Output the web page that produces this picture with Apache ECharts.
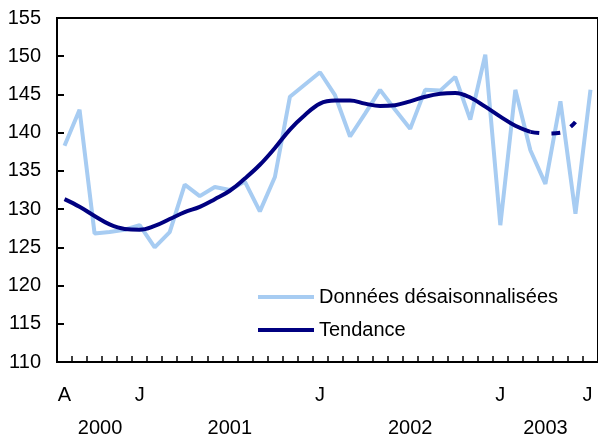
<!DOCTYPE html>
<html>
<head>
<meta charset="utf-8">
<script src="https://cdn.jsdelivr.net/npm/echarts@6/dist/echarts.min.js"></script>
<style>
html,body{margin:0;padding:0;background:#fff;}
#chart{width:598px;height:441px;}
</style>
</head>
<body>
<div id="chart"></div>
<script>
// Months: August 2000 to July 2003
var categories = [
  '2000-08','2000-09','2000-10','2000-11','2000-12',
  '2001-01','2001-02','2001-03','2001-04','2001-05','2001-06','2001-07','2001-08','2001-09','2001-10','2001-11','2001-12',
  '2002-01','2002-02','2002-03','2002-04','2002-05','2002-06','2002-07','2002-08','2002-09','2002-10','2002-11','2002-12',
  '2003-01','2003-02','2003-03','2003-04','2003-05','2003-06','2003-07'
];
var monthTickLabels = [
  'A','','','','',
  'J','','','','','','','','','','','',
  'J','','','','','','','','','','','',
  'J','','','','','','J'
];
var yearLabels = {2: '2000', 11: '2001', 23: '2002', 32: '2003'};

var seasonallyAdjusted = [
  138.3, 143.0, 126.8, 127.0, 127.3,
  127.9, 125.0, 127.0, 133.2, 131.7, 132.9, 132.5, 133.6, 129.7, 134.2, 144.7, 146.3,
  147.9, 144.9, 139.5, 142.5, 145.6, 143.0, 140.5, 145.6, 145.5, 147.3, 141.7, 150.2,
  127.9, 145.6, 137.7, 133.3, 144.1, 129.4, 145.6
];
var trendFinal = [
  131.3, 130.3, 129.1, 128.0, 127.4,
  127.3, 127.8, 128.7, 129.6, 130.3, 131.3, 132.4, 134.0, 135.8, 138.0, 140.4, 142.3,
  143.8, 144.2, 144.2, 143.8, 143.5, 143.6, 144.1, 144.7, 145.1, 145.2, 144.6, 143.4,
  142.1, 140.9, 140.1, null, null, null, null
];
var trendProvisional = [
  null, null, null, null, null,
  null, null, null, null, null, null, null, null, null, null, null, null,
  null, null, null, null, null, null, null, null, null, null, null, null,
  null, null, 140.1, 139.9, 140.0, 141.4, null
];

var FONT = "'Liberation Sans', Arial, sans-serif";
var chart = echarts.init(document.getElementById('chart'), null, {renderer: 'canvas'});
chart.setOption({
  animation: false,
  backgroundColor: '#fff',
  grid: {left: 57, right: -4, top: 18, bottom: 79, show: true, borderColor: '#000', borderWidth: 2, containLabel: false},
  legend: {
    data: ['Données désaisonnalisées', 'Tendance'],
    orient: 'vertical',
    left: 258, top: 287, padding: 0,
    icon: 'rect', itemWidth: 56, itemHeight: 4, itemGap: 13,
    textStyle: {fontFamily: FONT, fontSize: 20, color: '#000', lineHeight: 20, padding: [0, 0, 0, 0]}
  },
  xAxis: [{
    type: 'category', data: categories, boundaryGap: true, position: 'bottom',
    axisLine: {show: true, lineStyle: {color: '#000', width: 2}},
    axisTick: {show: true, inside: true, length: 6, interval: 0, lineStyle: {color: '#000', width: 1.5}},
    axisLabel: {
      interval: 0, margin: 23, fontFamily: FONT, fontSize: 20, color: '#000',
      formatter: function (v, i) { return monthTickLabels[i] ? (i === 35 ? '{r|' + monthTickLabels[i] + '}' : monthTickLabels[i]) : ''; },
      rich: {r: {fontFamily: FONT, fontSize: 20, color: '#000', padding: [0, 6, 0, 0]}}
    },
    splitLine: {show: false}
  }, {
    type: 'category', data: categories, boundaryGap: true, position: 'bottom',
    axisLine: {show: false}, axisTick: {show: false},
    axisLabel: {
      interval: 0, margin: 56, fontFamily: FONT, fontSize: 20, color: '#000',
      formatter: function (v, i) {
        var y = yearLabels[i];
        if (!y) return '';
        if (i === 2) return '{a|' + y + '}';
        return y;
      },
      rich: {a: {fontFamily: FONT, fontSize: 20, color: '#000', padding: [0, 0, 0, 11]}}
    },
    splitLine: {show: false}
  }],
  yAxis: {
    type: 'value', min: 110, max: 155, interval: 5,
    axisLine: {show: true, lineStyle: {color: '#000', width: 2}},
    axisTick: {show: true, inside: true, length: 7, lineStyle: {color: '#000', width: 2}},
    axisLabel: {margin: 16, fontFamily: FONT, fontSize: 20, color: '#000'},
    splitLine: {show: false}
  },
  series: [{
    name: 'Données désaisonnalisées', type: 'line', data: seasonallyAdjusted,
    color: '#a7ccf2', symbol: 'none', lineStyle: {width: 4, color: '#a7ccf2'}, z: 2
  }, {
    name: 'Tendance', type: 'line', data: trendFinal, smooth: 0.4,
    color: '#000080', symbol: 'none', lineStyle: {width: 4, color: '#000080'}, z: 3
  }, {
    name: 'Tendance provisoire', type: 'line', data: trendProvisional, smooth: 0.4,
    color: '#000080', symbol: 'none', lineStyle: {width: 4, color: '#000080', type: [9, 12]}, z: 3
  }]
});
</script>
</body>
</html>
